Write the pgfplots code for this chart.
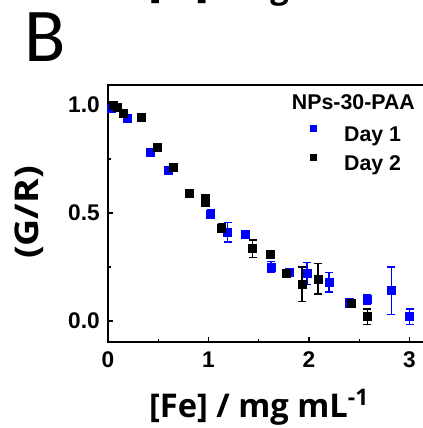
\documentclass[border=0pt]{standalone}
\usepackage{fontspec}
\setmainfont{Liberation Sans}
\newfontfamily\calib{Carlito}
\newfontfamily\osans{Open Sans}
\usepackage{pgfplots}
\pgfplotsset{compat=1.18}

% 1 px of the reference = 0.75pt; picture is 423 x 428 px
\begin{document}
\begin{tikzpicture}
\begin{scope}
\clip (0,0) rectangle (317.25pt,321pt);

% panel letter and the cut-off label of the panel above
\node[anchor=base west,inner sep=0pt,font=\calib\fontsize{57}{57}\selectfont] at (18.5pt,274.5pt) {B};
\node[anchor=base,inner sep=0pt,font=\osans\bfseries\fontsize{24.5}{24.5}\selectfont] at (194.25pt,321.75pt) {[Fe] / mg mL\textsuperscript{-1}};

\begin{axis}[
  at={(81pt,64.5pt)}, anchor=south west,
  scale only axis,
  width=241.2pt, height=192.75pt,
  xmin=0, xmax=3.2,
  ymin=-0.0972, ymax=1.0926,
  xtick={0,1,2,3}, minor xtick={0.5,1.5,2.5},
  ytick={0,0.5,1}, minor ytick={0.25,0.75},
  xtick pos=bottom, ytick pos=left,
  tick align=inside,
  major tick length=4pt, minor tick length=2.5pt,
  every tick/.style={black,line width=1pt},
  axis line style={black,line width=1.4pt},
  /pgf/number format/assume math mode=true,
  ticklabel style={font=\bfseries\fontsize{17}{17}\selectfont},
  yticklabel style={/pgf/number format/fixed,/pgf/number format/precision=1,/pgf/number format/zerofill,inner sep=0pt,xshift=-6pt},
  xticklabel style={inner sep=0pt,yshift=-7pt},
  xlabel={[Fe] / mg mL\textsuperscript{-1}},
  ylabel={\scalebox{1.15}[1]{(G/R)}},
  every axis x label/.style={at={(rel axis cs:0.4695,-0.292)},anchor=base,inner sep=0pt,font=\osans\bfseries\fontsize{24.5}{24.5}\selectfont},
  every axis y label/.style={at={(rel axis cs:-0.2456,0.504)},anchor=center,rotate=90,inner sep=0pt,font=\osans\bfseries\fontsize{24.5}{24.5}\selectfont},
  clip=false,
  legend style={at={(rel axis cs:0.628,0.843)},anchor=north west,draw=none,fill=none,inner sep=0pt,
    font=\bfseries\fontsize{16}{16}\selectfont,
    nodes={inner sep=0pt,text height=11pt,text depth=0pt},
    row sep=10pt,column sep=21pt},
  legend cell align={left},
  legend image code/.code={\draw[#1,mark size=2.2pt] plot coordinates {(0pt,4pt)};},
  error bars/y dir=both, error bars/y explicit,
  error bars/error bar style={line width=1.1pt},
  error bars/error mark options={rotate=90,mark size=3pt,line width=1.1pt},
]
\addplot[only marks,mark=square*,mark size=3pt,color={rgb,255:red,0;green,0;blue,255}]
coordinates {
(0.03,0.985) +- (0,0)
(0.19,0.94) +- (0,0.01)
(0.42,0.78) +- (0,0.01)
(0.60,0.70) +- (0,0.01)
(1.02,0.495) +- (0,0.02)
(1.19,0.41) +- (0,0.045)
(1.37,0.40) +- (0,0.01)
(1.62,0.25) +- (0,0.025)
(1.80,0.227) +- (0,0.01)
(1.98,0.22) +- (0,0.05)
(2.20,0.18) +- (0,0.045)
(2.40,0.085) +- (0,0.02)
(2.58,0.10) +- (0,0.023)
(2.82,0.14) +- (0,0.11)
(3.00,0.02) +- (0,0.035)
};
\addlegendentry{Day 1}
\addplot[only marks,mark=square*,mark size=3pt,color=black]
coordinates {
(0.05,1.0) +- (0,0)
(0.09,0.99) +- (0,0)
(0.15,0.96) +- (0,0.01)
(0.33,0.945) +- (0,0)
(0.49,0.805) +- (0,0.01)
(0.65,0.71) +- (0,0.01)
(0.81,0.59) +- (0,0)
(0.97,0.57) +- (0,0.01)
(0.97,0.55) +- (0,0.01)
(1.13,0.43) +- (0,0.02)
(1.44,0.335) +- (0,0.04)
(1.61,0.31) +- (0,0.015)
(1.77,0.22) +- (0,0.01)
(1.93,0.17) +- (0,0.08)
(2.09,0.195) +- (0,0.07)
(2.42,0.083) +- (0,0.01)
(2.58,0.02) +- (0,0.035)
};
\addlegendentry{Day 2}
\node[anchor=base east,inner sep=0pt,font=\bfseries\fontsize{16}{16}\selectfont] at (rel axis cs:0.955,0.903) {NPs-30-PAA};
\end{axis}
\end{scope}
\pgfresetboundingbox
\useasboundingbox (0,0) rectangle (317.25pt,321pt);
\end{tikzpicture}
\end{document}
